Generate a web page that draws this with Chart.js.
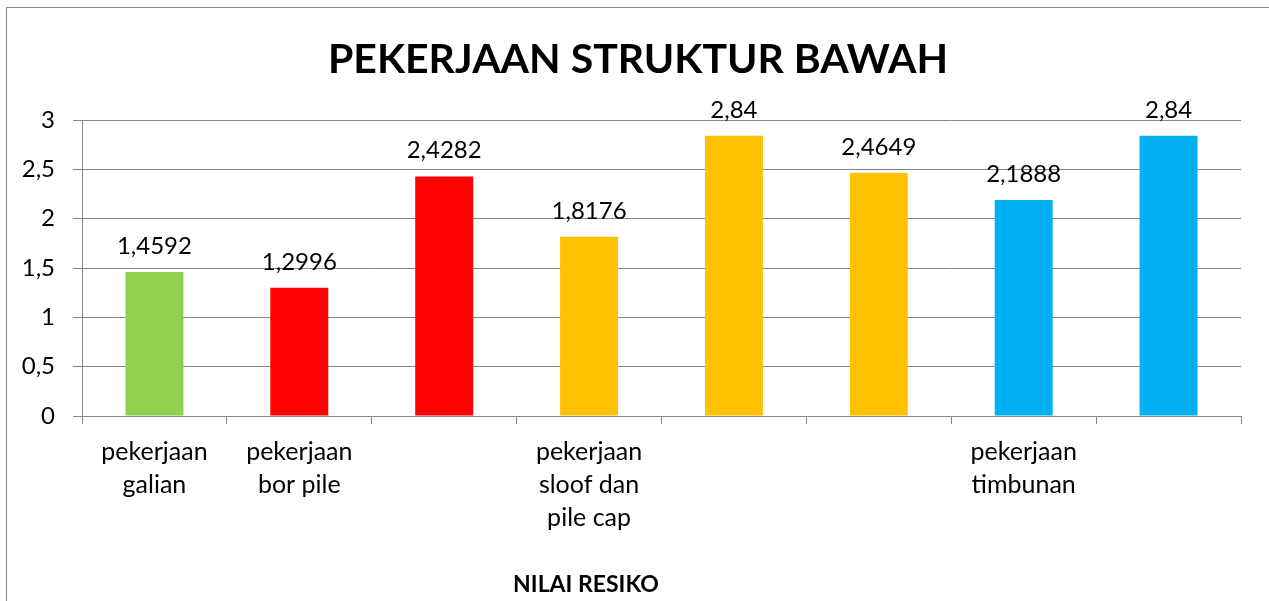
<!DOCTYPE html>
<html>
<head>
<meta charset="UTF-8">
<title>Pekerjaan Struktur Bawah</title>
<script src="https://cdn.jsdelivr.net/npm/chart.js"></script>
<style>
  html, body { margin: 0; padding: 0; background: #fff; }
</style>
</head>
<body>
<canvas id="chart" width="1269" height="601"></canvas>
<script>
// data dari grafik
const kategori = [
  ['pekerjaan', 'galian'],
  ['pekerjaan', 'bor pile'],
  '',
  ['pekerjaan', 'sloof dan', 'pile cap'],
  '',
  '',
  ['pekerjaan', 'timbunan'],
  ''
];
const nilaiResiko = [1.4592, 1.2996, 2.4282, 1.8176, 2.84, 2.4649, 2.1888, 2.84];
const warnaBatang = ['#92D050', '#FF0000', '#FF0000', '#FFC000', '#FFC000', '#FFC000', '#00B0F0', '#00B0F0'];
const judul = 'PEKERJAAN STRUKTUR BAWAH';
const judulSumbuX = 'NILAI RESIKO';

const FONT = 'Lato';
const koma = v => String(v).replace('.', ',');

// garis tepi kotak grafik + judul
const bingkai = {
  id: 'bingkai',
  beforeDraw(chart) {
    const ctx = chart.ctx;
    ctx.save();
    ctx.strokeStyle = '#8c8c8c';
    ctx.lineWidth = 1;
    ctx.strokeRect(6.5, 7.5, 1400, 700);
    ctx.fillStyle = '#000';
    ctx.font = 'bold 41px ' + FONT;
    ctx.textAlign = 'center';
    ctx.textBaseline = 'middle';
    ctx.fillText(judul, 638, 60);
    ctx.restore();
  }
};

// label nilai di atas batang + judul sumbu x
const labelNilai = {
  id: 'labelNilai',
  afterDatasetsDraw(chart) {
    const ctx = chart.ctx;
    const meta = chart.getDatasetMeta(0);
    ctx.save();
    ctx.fillStyle = '#000';
    ctx.font = '24px ' + FONT;
    ctx.textAlign = 'center';
    ctx.textBaseline = 'alphabetic';
    meta.data.forEach((bar, i) => {
      ctx.fillText(koma(nilaiResiko[i]), bar.x, bar.y - 18);
    });
    ctx.font = 'bold 23px ' + FONT;
    ctx.textBaseline = 'middle';
    ctx.fillText(judulSumbuX, 586, 585);
    ctx.restore();
  }
};

new Chart(document.getElementById('chart'), {
  type: 'bar',
  data: {
    labels: kategori,
    datasets: [{
      data: nilaiResiko,
      backgroundColor: warnaBatang,
      borderWidth: 0,
      barPercentage: 0.4,
      categoryPercentage: 1.0
    }]
  },
  options: {
    responsive: false,
    devicePixelRatio: 1,
    animation: false,
    layout: { padding: { left: 0, right: 28, top: 120, bottom: 0 } },
    plugins: {
      legend: { display: false },
      tooltip: { enabled: false },
      title: { display: false }
    },
    scales: {
      x: {
        grid: { display: true, drawOnChartArea: false, drawTicks: true, tickLength: 8, color: '#868686', offset: true },
        border: { color: '#868686' },
        ticks: {
          color: '#000',
          font: { family: FONT, size: 25, lineHeight: 1.32 },
          padding: 11,
          maxRotation: 0,
          autoSkip: false
        },
        afterFit(s) { s.height = 185; }
      },
      y: {
        min: 0,
        max: 3,
        grid: { color: '#868686', tickLength: 9 },
        border: { color: '#868686' },
        ticks: {
          stepSize: 0.5,
          color: '#000',
          font: { family: FONT, size: 24 },
          padding: 18,
          callback: v => koma(v)
        },
        afterFit(s) { s.width = 82; }
      }
    }
  },
  plugins: [bingkai, labelNilai]
});
</script>
</body>
</html>
